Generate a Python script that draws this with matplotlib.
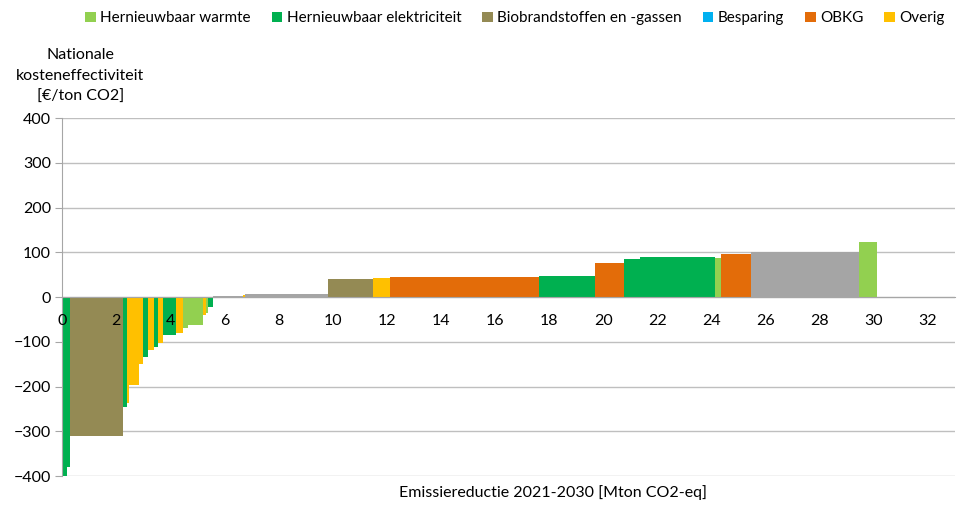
import numpy as np
import matplotlib
matplotlib.use('Agg')
import matplotlib.pyplot as plt
from matplotlib.patches import Patch

plt.rcParams['font.family'] = ['Lato', 'DejaVu Sans']

# Categorieen en kleuren
categorieen = ['Hernieuwbaar warmte', 'Hernieuwbaar elektriciteit',
               'Biobrandstoffen en -gassen', 'Besparing', 'OBKG', 'Overig']
kleuren = {'Hernieuwbaar warmte': '#92D050',
           'Hernieuwbaar elektriciteit': '#00B050',
           'Biobrandstoffen en -gassen': '#948A54',
           'Besparing': '#00B0F0',
           'OBKG': '#E36C09',
           'Overig': '#FFC000',
           'Overig (grijs)': '#A5A5A5'}

# Maatregelen: breedte [Mton], kosten [EUR/ton], categorie
breedte = [0.19, 0.11, 1.97, 0.12, 0.10, 0.37, 0.14, 0.17, 0.24, 0.15,
           0.16, 0.49, 0.27, 0.17, 0.55, 0.12, 0.09, 0.18, 1.11, 0.07,
           3.05, 1.67, 0.62, 5.52, 2.07, 1.08, 0.59, 2.77, 0.21, 1.12,
           3.99, 0.64]
kosten = [-400, -380, -310, -245, -236, -197, -150, -135, -118, -111,
          -103, -85, -80, -70, -63, -40, -36, -23, 2, 5,
          7, 40, 43, 44, 48, 75, 86, 89, 88, 96,
          100, 124]
categorie = ['Hernieuwbaar elektriciteit', 'Hernieuwbaar elektriciteit',
             'Biobrandstoffen en -gassen', 'Hernieuwbaar elektriciteit',
             'Overig', 'Overig', 'Overig', 'Hernieuwbaar elektriciteit',
             'Overig', 'Hernieuwbaar elektriciteit', 'Overig',
             'Hernieuwbaar elektriciteit', 'Overig', 'Hernieuwbaar warmte',
             'Hernieuwbaar warmte', 'Overig', 'Hernieuwbaar warmte',
             'Hernieuwbaar elektriciteit', 'Overig (grijs)', 'Overig',
             'Overig (grijs)', 'Biobrandstoffen en -gassen', 'Overig', 'OBKG',
             'Hernieuwbaar elektriciteit', 'OBKG', 'Hernieuwbaar elektriciteit',
             'Hernieuwbaar elektriciteit', 'Hernieuwbaar warmte', 'OBKG',
             'Overig (grijs)', 'Hernieuwbaar warmte']

x_ticks = list(range(0, 33, 2))
y_ticks = list(range(-400, 401, 100))

links = np.concatenate([[0], np.cumsum(breedte)[:-1]])

fig = plt.figure(figsize=(9.68, 5.07), dpi=100)
ax = fig.add_axes([0.064, 0.061, 0.9226, 0.7062])

# rasterlijnen achter de balken
for yt in y_ticks:
    ax.axhline(yt, color='#BFBFBF', linewidth=1, zorder=0.5)

ax.bar(links, kosten, width=breedte, align='edge',
       color=[kleuren[c] for c in categorie], linewidth=0, zorder=1)

ax.set_xlim(0, 33)
ax.set_ylim(-400, 400)
ax.set_yticks(y_ticks)
ax.set_xticks(x_ticks)
ax.set_axisbelow(False)

for s in ['top', 'right']:
    ax.spines[s].set_visible(False)
ax.spines['left'].set_color('#A6A6A6')
ax.spines['bottom'].set_color('#A6A6A6')
ax.spines['bottom'].set_position(('data', 0))

ax.tick_params(axis='y', length=5, color='#A6A6A6', labelsize=11.5, pad=3)
ax.tick_params(axis='x', length=0, labelsize=11.5, pad=12)

fig.text(0.083, 0.795, 'Nationale\nkosteneffectiviteit\n[€/ton CO2]',
         ha='center', va='bottom', fontsize=11.5, linespacing=1.65)
fig.text(0.571, 0.028, 'Emissiereductie 2021-2030 [Mton CO2-eq]',
         ha='center', va='center', fontsize=11.5)

handles = [Patch(facecolor=kleuren[c], edgecolor='none', label=c) for c in categorieen]
fig.legend(handles=handles, loc='center', bbox_to_anchor=(0.532, 0.964), ncol=6,
           frameon=False, fontsize=11, handlelength=0.7, handleheight=0.7,
           handletextpad=0.3, columnspacing=1.35)

fig.savefig('out.png', dpi=100)
